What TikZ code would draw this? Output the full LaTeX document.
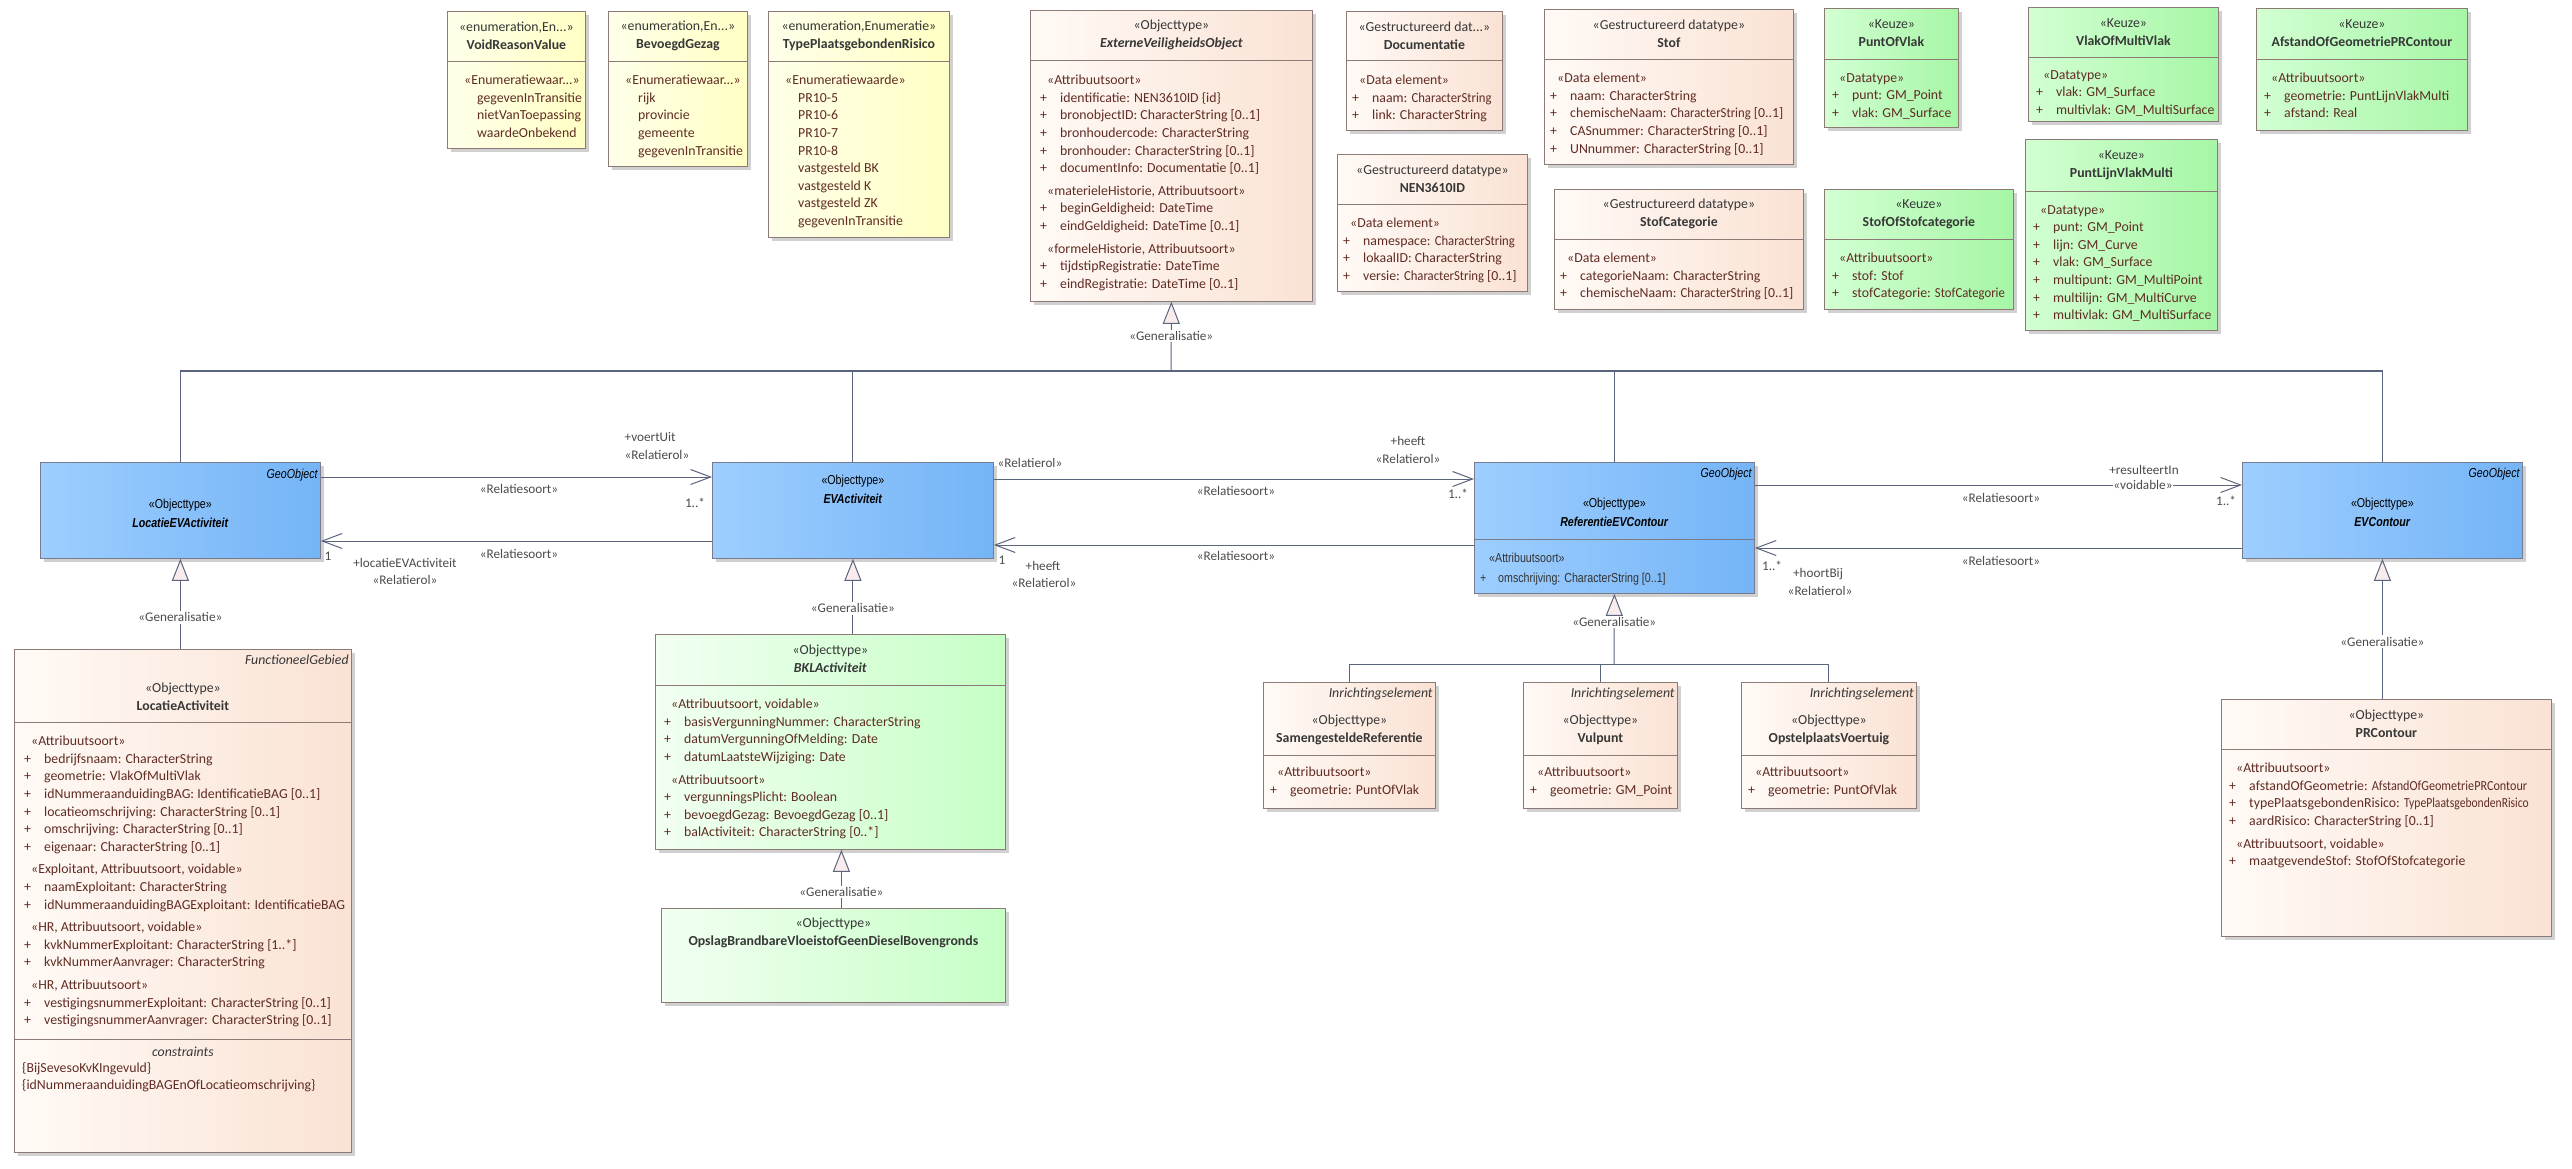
\documentclass[tikz,border=0pt]{standalone}
\usepackage{fontspec}
\setmainfont{Carlito}
\newfontfamily\geofont[FakeStretch=0.82]{Liberation Sans}
\usepackage{xcolor}
\definecolor{objL}{RGB}{255, 250, 246}
\definecolor{objR}{RGB}{250, 226, 212}
\definecolor{enumL}{RGB}{255, 255, 234}
\definecolor{enumR}{RGB}{255, 255, 196}
\definecolor{keuzeL}{RGB}{210, 255, 210}
\definecolor{keuzeR}{RGB}{166, 246, 166}
\definecolor{bklL}{RGB}{242, 255, 242}
\definecolor{bklR}{RGB}{198, 255, 198}
\definecolor{geoL}{RGB}{158, 206, 255}
\definecolor{geoR}{RGB}{116, 180, 246}
\definecolor{boxline}{RGB}{140, 122, 118}
\definecolor{geoline}{RGB}{118, 124, 140}
\definecolor{conn}{RGB}{90, 100, 125}
\definecolor{trifill}{RGB}{248, 236, 236}
\definecolor{attrtext}{RGB}{96, 44, 36}
\definecolor{hdrtext}{RGB}{55, 55, 55}
\definecolor{lbltext}{RGB}{75, 75, 75}
\usepackage{tikz}
\usetikzlibrary{
    arrows.meta,
    positioning,
    calc,
    shadows
}

\newcommand{\umlp}{\makebox[20pt][l]{+}}
\newcommand{\umlv}{\hspace*{20pt}}
\newcommand{\umls}[1]{\hspace*{7pt}«#1»}
\newcommand{\squeeze}[1]{\scalebox{0.92}[1]{#1}}

\begin{document}
\begin{tikzpicture}[
    x=1pt, y=-1pt,
    classbox/.style={draw=boxline, line width=0.8pt, anchor=north west, inner sep=0pt,
        drop shadow={shadow xshift=4pt, shadow yshift=-4pt, fill=black!30, opacity=0.6}},
    objbox/.style={classbox, left color=objL, right color=objR},
    enumbox/.style={classbox, left color=enumL, right color=enumR},
    keuzebox/.style={classbox, left color=keuzeL, right color=keuzeR},
    bklbox/.style={classbox, left color=bklL, right color=bklR},
    geobox/.style={classbox, draw=geoline, left color=geoL, right color=geoR},
    sepline/.style={draw=boxline, line width=0.8pt},
    hdr/.style={align=center, inner sep=0pt, text=hdrtext, font=\fontsize{13.8}{17.6}\selectfont},
    body/.style={align=left, anchor=north west, inner sep=0pt, text=attrtext, font=\fontsize{13.8}{17.6}\selectfont},
    tag/.style={anchor=north east, inner sep=0pt, text=hdrtext, font=\itshape\fontsize{13.8}{15}\selectfont},
    geohdr/.style={align=center, inner sep=0pt, text=black, font=\geofont\fontsize{13}{19}\selectfont},
    geotag/.style={anchor=north east, inner sep=0pt, text=black, font=\geofont\itshape\fontsize{13}{15}\selectfont},
    geobody/.style={align=left, anchor=north west, inner sep=0pt, text=black!80, font=\geofont\fontsize{13}{19.5}\selectfont},
    lbl/.style={inner sep=0.5pt, text=lbltext, font=\fontsize{13.2}{15}\selectfont},
    genlbl/.style={lbl, fill=white, inner sep=1.5pt},
    gen/.style={draw=conn, line width=1pt},
    genhead/.style={-{Triangle[length=22pt, width=17pt, fill=trifill, line width=1pt]}},
    assoc/.style={draw=conn, line width=1pt, -{Straight Barb[length=20pt, width=15pt, line width=1pt]}}
]
\fill[white] (0,0) rectangle (2572,1169);
\useasboundingbox (0,0) rectangle (2572,1169);

% ==================== ENUMERATIES ====================
\node[enumbox, minimum width=138pt, minimum height=137pt] (voidreason) at (447,11) {};
\draw[sepline] ([yshift=-50pt]voidreason.north west) -- ([yshift=-50pt]voidreason.north east);
\node[hdr] at ([yshift=-25pt]voidreason.north) {«enumeration,En...»\\\textbf{VoidReasonValue}};
\node[body] at ([xshift=10pt,yshift=-64pt]voidreason.north west) {\umls{Enumeratiewaar...}\\
    \umlv gegevenInTransitie\\\umlv nietVanToepassing\\\umlv waardeOnbekend};

\node[enumbox, minimum width=139pt, minimum height=155pt] (bevgezag) at (608,11) {};
\draw[sepline] ([yshift=-50pt]bevgezag.north west) -- ([yshift=-50pt]bevgezag.north east);
\node[hdr] at ([yshift=-25pt]bevgezag.north) {«enumeration,En...»\\\textbf{BevoegdGezag}};
\node[body] at ([xshift=10pt,yshift=-64pt]bevgezag.north west) {\umls{Enumeratiewaar...}\\
    \umlv rijk\\\umlv provincie\\\umlv gemeente\\\umlv gegevenInTransitie};

\node[enumbox, minimum width=181pt, minimum height=226pt] (typepr) at (768,11) {};
\draw[sepline] ([yshift=-50pt]typepr.north west) -- ([yshift=-50pt]typepr.north east);
\node[hdr] at ([yshift=-25pt]typepr.north) {«enumeration,Enumeratie»\\\textbf{TypePlaatsgebondenRisico}};
\node[body] at ([xshift=10pt,yshift=-64pt]typepr.north west) {\umls{Enumeratiewaarde}\\
    \umlv PR10-5\\\umlv PR10-6\\\umlv PR10-7\\\umlv PR10-8\\\umlv vastgesteld BK\\
    \umlv vastgesteld K\\\umlv vastgesteld ZK\\\umlv gegevenInTransitie};

% ==================== EXTERNE VEILIGHEIDS OBJECT ====================
\node[objbox, minimum width=282pt, minimum height=291pt] (evobject) at (1030,10) {};
\draw[sepline] ([yshift=-50pt]evobject.north west) -- ([yshift=-50pt]evobject.north east);
\node[hdr] at ([yshift=-25pt]evobject.north) {«Objecttype»\\\textbf{\textit{ExterneVeiligheidsObject}}};
\node[body] at ([xshift=10pt,yshift=-65pt]evobject.north west) {\umls{Attribuutsoort}\\
    \umlp identificatie: NEN3610ID \{id\}\\
    \umlp bronobjectID: CharacterString [0..1]\\
    \umlp bronhoudercode: CharacterString\\
    \umlp bronhouder: CharacterString [0..1]\\
    \umlp documentInfo: Documentatie [0..1]\\[5pt]
    \umls{materieleHistorie, Attribuutsoort}\\
    \umlp beginGeldigheid: DateTime\\
    \umlp eindGeldigheid: DateTime [0..1]\\[5pt]
    \umls{formeleHistorie, Attribuutsoort}\\
    \umlp tijdstipRegistratie: DateTime\\
    \umlp eindRegistratie: DateTime [0..1]};

% ==================== GESTRUCTUREERDE DATATYPES ====================
\node[objbox, minimum width=156pt, minimum height=119pt] (documentatie) at (1346,11) {};
\draw[sepline] ([yshift=-49pt]documentatie.north west) -- ([yshift=-49pt]documentatie.north east);
\node[hdr] at ([yshift=-25pt]documentatie.north) {«Gestructureerd dat...»\\\textbf{Documentatie}};
\node[body] at ([xshift=6pt,yshift=-64pt]documentatie.north west) {\umls{Data element}\\
    \umlp naam: \squeeze{CharacterString}\\\umlp link: CharacterString};

\node[objbox, minimum width=190pt, minimum height=137pt] (nen3610id) at (1337,154) {};
\draw[sepline] ([yshift=-50pt]nen3610id.north west) -- ([yshift=-50pt]nen3610id.north east);
\node[hdr] at ([yshift=-25pt]nen3610id.north) {«Gestructureerd datatype»\\\textbf{NEN3610ID}};
\node[body] at ([xshift=6pt,yshift=-64pt]nen3610id.north west) {\umls{Data element}\\
    \umlp namespace: \squeeze{CharacterString}\\\umlp lokaalID: CharacterString\\
    \umlp versie: \squeeze{CharacterString} [0..1]};

\node[objbox, minimum width=249pt, minimum height=155pt] (stof) at (1544,9) {};
\draw[sepline] ([yshift=-50pt]stof.north west) -- ([yshift=-50pt]stof.north east);
\node[hdr] at ([yshift=-25pt]stof.north) {«Gestructureerd datatype»\\\textbf{Stof}};
\node[body] at ([xshift=6pt,yshift=-64pt]stof.north west) {\umls{Data element}\\
    \umlp naam: CharacterString\\\umlp chemischeNaam: \squeeze{CharacterString} [0..1]\\
    \umlp CASnummer: CharacterString [0..1]\\\umlp UNnummer: CharacterString [0..1]};

\node[objbox, minimum width=249pt, minimum height=120pt] (stofcat) at (1554,189) {};
\draw[sepline] ([yshift=-50pt]stofcat.north west) -- ([yshift=-50pt]stofcat.north east);
\node[hdr] at ([yshift=-25pt]stofcat.north) {«Gestructureerd datatype»\\\textbf{StofCategorie}};
\node[body] at ([xshift=6pt,yshift=-64pt]stofcat.north west) {\umls{Data element}\\
    \umlp categorieNaam: CharacterString\\\umlp chemischeNaam: \squeeze{CharacterString} [0..1]};

% ==================== KEUZES ====================
\node[keuzebox, minimum width=134pt, minimum height=119pt] (puntofvlak) at (1824,8) {};
\draw[sepline] ([yshift=-51pt]puntofvlak.north west) -- ([yshift=-51pt]puntofvlak.north east);
\node[hdr] at ([yshift=-25pt]puntofvlak.north) {«Keuze»\\\textbf{PuntOfVlak}};
\node[body] at ([xshift=8pt,yshift=-65pt]puntofvlak.north west) {\umls{Datatype}\\
    \umlp punt: GM\_Point\\\umlp vlak: GM\_Surface};

\node[keuzebox, minimum width=190pt, minimum height=114pt] (vlakofmulti) at (2028,7) {};
\draw[sepline] ([yshift=-50pt]vlakofmulti.north west) -- ([yshift=-50pt]vlakofmulti.north east);
\node[hdr] at ([yshift=-25pt]vlakofmulti.north) {«Keuze»\\\textbf{VlakOfMultiVlak}};
\node[body] at ([xshift=8pt,yshift=-63pt]vlakofmulti.north west) {\umls{Datatype}\\
    \umlp vlak: GM\_Surface\\\umlp multivlak: GM\_MultiSurface};

\node[keuzebox, minimum width=211pt, minimum height=122pt] (afstandgeo) at (2256,8) {};
\draw[sepline] ([yshift=-51pt]afstandgeo.north west) -- ([yshift=-51pt]afstandgeo.north east);
\node[hdr] at ([yshift=-25pt]afstandgeo.north) {«Keuze»\\\textbf{AfstandOfGeometriePRContour}};
\node[body] at ([xshift=8pt,yshift=-65pt]afstandgeo.north west) {\umls{Attribuutsoort}\\
    \umlp geometrie: PuntLijnVlakMulti\\\umlp afstand: Real};

\node[keuzebox, minimum width=189pt, minimum height=120pt] (stofofcat) at (1824,189) {};
\draw[sepline] ([yshift=-50pt]stofofcat.north west) -- ([yshift=-50pt]stofofcat.north east);
\node[hdr] at ([yshift=-25pt]stofofcat.north) {«Keuze»\\\textbf{StofOfStofcategorie}};
\node[body] at ([xshift=8pt,yshift=-64pt]stofofcat.north west) {\umls{Attribuutsoort}\\
    \umlp stof: Stof\\\umlp stofCategorie: \squeeze{StofCategorie}};

\node[keuzebox, minimum width=192pt, minimum height=191pt] (puntlijn) at (2025,139) {};
\draw[sepline] ([yshift=-52pt]puntlijn.north west) -- ([yshift=-52pt]puntlijn.north east);
\node[hdr] at ([yshift=-26pt]puntlijn.north) {«Keuze»\\\textbf{PuntLijnVlakMulti}};
\node[body] at ([xshift=8pt,yshift=-66pt]puntlijn.north west) {\umls{Datatype}\\
    \umlp punt: GM\_Point\\\umlp lijn: GM\_Curve\\\umlp vlak: GM\_Surface\\
    \umlp multipunt: GM\_MultiPoint\\\umlp multilijn: GM\_MultiCurve\\
    \umlp multivlak: GM\_MultiSurface};

% ==================== GEO OBJECTEN ====================
\node[geobox, minimum width=280pt, minimum height=96pt] (locev) at (40,462) {};
\node[geotag] at ([xshift=-3pt,yshift=-7pt]locev.north east) {GeoObject};
\node[geohdr] at ([yshift=-51pt]locev.north) {«Objecttype»\\\textbf{\textit{LocatieEVActiviteit}}};

\node[geobox, minimum width=281pt, minimum height=96pt] (evact) at (712,462) {};
\node[geohdr] at ([yshift=-27pt]evact.north) {«Objecttype»\\\textbf{\textit{EVActiviteit}}};

\node[geobox, minimum width=280pt, minimum height=131pt] (refcontour) at (1474,462) {};
\draw[sepline, draw=geoline] ([yshift=-77pt]refcontour.north west) -- ([yshift=-77pt]refcontour.north east);
\node[geotag] at ([xshift=-3pt,yshift=-6pt]refcontour.north east) {GeoObject};
\node[geohdr] at ([yshift=-50pt]refcontour.north) {«Objecttype»\\\textbf{\textit{ReferentieEVContour}}};
\node[geobody] at ([xshift=6pt,yshift=-91pt]refcontour.north west) {\hspace*{9pt}«Attribuutsoort»\\
    \makebox[18pt][l]{+}omschrijving: CharacterString [0..1]};

\node[geobox, minimum width=280pt, minimum height=96pt] (evcontour) at (2242,462) {};
\node[geotag] at ([xshift=-3pt,yshift=-6pt]evcontour.north east) {GeoObject};
\node[geohdr] at ([yshift=-50pt]evcontour.north) {«Objecttype»\\\textbf{\textit{EVContour}}};

% ==================== LOCATIE ACTIVITEIT ====================
\node[objbox, minimum width=337pt, minimum height=503pt] (locact) at (14,649) {};
\draw[sepline] ([yshift=-73pt]locact.north west) -- ([yshift=-73pt]locact.north east);
\draw[sepline] ([yshift=-390pt]locact.north west) -- ([yshift=-390pt]locact.north east);
\node[tag] at ([xshift=-3pt,yshift=-6pt]locact.north east) {FunctioneelGebied};
\node[hdr] at ([yshift=-48pt]locact.north) {«Objecttype»\\\textbf{LocatieActiviteit}};
\node[body] at ([xshift=10pt,yshift=-87pt]locact.north west) {\umls{Attribuutsoort}\\
    \umlp bedrijfsnaam: CharacterString\\
    \umlp geometrie: VlakOfMultiVlak\\
    \umlp idNummeraanduidingBAG: IdentificatieBAG [0..1]\\
    \umlp locatieomschrijving: CharacterString [0..1]\\
    \umlp omschrijving: CharacterString [0..1]\\
    \umlp eigenaar: CharacterString [0..1]\\[5pt]
    \umls{Exploitant, Attribuutsoort, voidable}\\
    \umlp naamExploitant: CharacterString\\
    \umlp idNummeraanduidingBAGExploitant: IdentificatieBAG\\[5pt]
    \umls{HR, Attribuutsoort, voidable}\\
    \umlp kvkNummerExploitant: CharacterString [1..*]\\
    \umlp kvkNummerAanvrager: CharacterString\\[5pt]
    \umls{HR, Attribuutsoort}\\
    \umlp vestigingsnummerExploitant: CharacterString [0..1]\\
    \umlp vestigingsnummerAanvrager: CharacterString [0..1]};
\node[hdr, font=\itshape\fontsize{13.8}{17.6}\selectfont] at ([yshift=-403pt]locact.north) {constraints};
\node[body] at ([xshift=8pt,yshift=-413pt]locact.north west) {\{BijSevesoKvKIngevuld\}\\
    \{idNummeraanduidingBAGEnOfLocatieomschrijving\}};

% ==================== BKL ACTIVITEIT ====================
\node[bklbox, minimum width=350pt, minimum height=215pt] (bklact) at (655,634) {};
\draw[sepline] ([yshift=-51pt]bklact.north west) -- ([yshift=-51pt]bklact.north east);
\node[hdr] at ([yshift=-25pt]bklact.north) {«Objecttype»\\\textbf{\textit{BKLActiviteit}}};
\node[body] at ([xshift=9pt,yshift=-65pt]bklact.north west) {\umls{Attribuutsoort, voidable}\\
    \umlp basisVergunningNummer: CharacterString\\
    \umlp datumVergunningOfMelding: Date\\
    \umlp datumLaatsteWijziging: Date\\[5pt]
    \umls{Attribuutsoort}\\
    \umlp vergunningsPlicht: Boolean\\
    \umlp bevoegdGezag: BevoegdGezag [0..1]\\
    \umlp balActiviteit: CharacterString [0..*]};

\node[bklbox, minimum width=344pt, minimum height=94pt] (opslag) at (661,908) {};
\node[hdr] at ([yshift=-25pt]opslag.north) {«Objecttype»\\\textbf{OpslagBrandbareVloeistofGeenDieselBovengronds}};

% ==================== INRICHTINGSELEMENTEN ====================
\node[objbox, minimum width=172pt, minimum height=126pt] (samref) at (1263,682) {};
\draw[sepline] ([yshift=-73pt]samref.north west) -- ([yshift=-73pt]samref.north east);
\node[tag] at ([xshift=-3pt,yshift=-6pt]samref.north east) {Inrichtingselement};
\node[hdr] at ([yshift=-48pt]samref.north) {«Objecttype»\\\textbf{SamengesteldeReferentie}};
\node[body] at ([xshift=7pt,yshift=-85pt]samref.north west) {\umls{Attribuutsoort}\\
    \umlp geometrie: PuntOfVlak};

\node[objbox, minimum width=154pt, minimum height=126pt] (vulpunt) at (1523,682) {};
\draw[sepline] ([yshift=-73pt]vulpunt.north west) -- ([yshift=-73pt]vulpunt.north east);
\node[tag] at ([xshift=-3pt,yshift=-6pt]vulpunt.north east) {Inrichtingselement};
\node[hdr] at ([yshift=-48pt]vulpunt.north) {«Objecttype»\\\textbf{Vulpunt}};
\node[body] at ([xshift=7pt,yshift=-85pt]vulpunt.north west) {\umls{Attribuutsoort}\\
    \umlp geometrie: GM\_Point};

\node[objbox, minimum width=175pt, minimum height=126pt] (opstelplaats) at (1741,682) {};
\draw[sepline] ([yshift=-73pt]opstelplaats.north west) -- ([yshift=-73pt]opstelplaats.north east);
\node[tag] at ([xshift=-3pt,yshift=-6pt]opstelplaats.north east) {Inrichtingselement};
\node[hdr] at ([yshift=-48pt]opstelplaats.north) {«Objecttype»\\\textbf{OpstelplaatsVoertuig}};
\node[body] at ([xshift=7pt,yshift=-85pt]opstelplaats.north west) {\umls{Attribuutsoort}\\
    \umlp geometrie: PuntOfVlak};

% ==================== PR CONTOUR ====================
\node[objbox, minimum width=330pt, minimum height=237pt] (prcontour) at (2221,699) {};
\draw[sepline] ([yshift=-50pt]prcontour.north west) -- ([yshift=-50pt]prcontour.north east);
\node[hdr] at ([yshift=-25pt]prcontour.north) {«Objecttype»\\\textbf{PRContour}};
\node[body] at ([xshift=8pt,yshift=-64pt]prcontour.north west) {\umls{Attribuutsoort}\\
    \umlp afstandOfGeometrie: \scalebox{0.88}[1]{AfstandOfGeometriePRContour}\\
    \umlp typePlaatsgebondenRisico: \scalebox{0.84}[1]{TypePlaatsgebondenRisico}\\
    \umlp aardRisico: CharacterString [0..1]\\[5pt]
    \umls{Attribuutsoort, voidable}\\
    \umlp maatgevendeStof: StofOfStofcategorie};

% ==================== GENERALISATIES ====================
\coordinate (genbar) at (1171,371);
\draw[gen, line width=1.3pt] (locev.north) -- (locev.north |- genbar) -- (evcontour.north |- genbar) -- (evcontour.north);
\draw[gen] (evact.north) -- (evact.north |- genbar);
\draw[gen] (refcontour.north) -- (refcontour.north |- genbar);
\draw[gen, genhead] (genbar) -- node[genlbl, pos=0.51] {«Generalisatie»} (evobject.south);

\draw[gen, genhead] (locact.north -| locev.south) -- node[genlbl, pos=0.35] {«Generalisatie»} (locev.south);
\draw[gen, genhead] (bklact.north -| evact.south) -- node[genlbl, pos=0.34] {«Generalisatie»} (evact.south);
\draw[gen, genhead] ([xshift=8pt]opslag.north) -- node[genlbl, pos=0.27] {«Generalisatie»} ([xshift=8pt]opslag.north |- bklact.south);
\draw[gen, genhead] (prcontour.north -| evcontour.south) -- node[genlbl, pos=0.41] {«Generalisatie»} (evcontour.south);

\coordinate (refbar) at (1614,664);
\draw[gen] (samref.north) -- (samref.north |- refbar) -- (opstelplaats.north |- refbar) -- (opstelplaats.north);
\draw[gen] (vulpunt.north) -- (vulpunt.north |- refbar);
\draw[gen, genhead] (refbar) -- node[genlbl, pos=0.6] {«Generalisatie»} (refcontour.south);

% ==================== RELATIES ====================
\draw[assoc] ([yshift=-15pt]locev.north east) -- ([yshift=-15pt]evact.north west);
\node[lbl, anchor=west] at (624,437) {+voertUit};
\node[lbl, anchor=west] at (624,455) {«Relatierol»};
\node[lbl] at (695,503) {1..*};
\node[lbl] at (519,489) {«Relatiesoort»};

\draw[assoc] ([yshift=-79pt]evact.north west) -- ([yshift=-79pt]locev.north east);
\node[lbl] at (328,556) {1};
\node[lbl] at (405,563) {+locatieEVActiviteit};
\node[lbl] at (405,580) {«Relatierol»};
\node[lbl] at (519,554) {«Relatiesoort»};

\draw[assoc] ([yshift=-17pt]evact.north east) -- ([yshift=-17pt]refcontour.north west);
\node[lbl, anchor=west] at (997,463) {«Relatierol»};
\node[lbl] at (1408,441) {+heeft};
\node[lbl] at (1408,459) {«Relatierol»};
\node[lbl] at (1458,494) {1..*};
\node[lbl] at (1236,491) {«Relatiesoort»};

\draw[assoc] ([yshift=-83pt]refcontour.north west) -- ([yshift=-83pt]evact.north east);
\node[lbl] at (1002,560) {1};
\node[lbl] at (1043,566) {+heeft};
\node[lbl] at (1044,583) {«Relatierol»};
\node[lbl] at (1236,556) {«Relatiesoort»};

\draw[assoc] ([yshift=-23pt]refcontour.north east) -- ([yshift=-23pt]evcontour.north west);
\node[lbl] at (2144,470) {+resulteertIn};
\node[lbl, fill=white] at (2143,485) {«voidable»};
\node[lbl] at (2226,501) {1..*};
\node[lbl] at (2001,498) {«Relatiesoort»};

\draw[assoc] ([yshift=-86pt]evcontour.north west) -- ([yshift=-86pt]refcontour.north east);
\node[lbl] at (1772,566) {1..*};
\node[lbl] at (1818,574) {+hoortBij};
\node[lbl] at (1820,591) {«Relatierol»};
\node[lbl] at (2001,561) {«Relatiesoort»};

\end{tikzpicture}
\end{document}
